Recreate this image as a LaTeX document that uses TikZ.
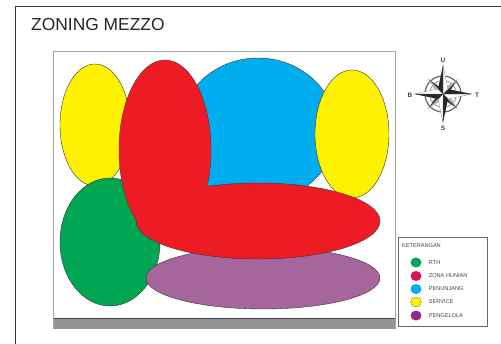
\documentclass[tikz,border=0pt]{standalone}
\usepackage{fontspec}
\setmainfont{Liberation Sans}
\usetikzlibrary{shapes.geometric,positioning,calc}
\definecolor{zonegreen}{HTML}{00A651}
\definecolor{zonered}{HTML}{ED1C24}
\definecolor{zoneblue}{HTML}{00AEEF}
\definecolor{zoneyellow}{HTML}{FFF200}
\definecolor{zonepurple}{HTML}{A7669B}
\definecolor{swatchred}{HTML}{D4145A}
\definecolor{swatchpurple}{HTML}{92278F}
\begin{document}
\begin{tikzpicture}[
  x=1pt, y=-1pt,
  every node/.style={font=\fontsize{5.6}{7}\selectfont, text=black!75},
  zone/.style={draw=black!80, line width=0.4pt},
  swatch/.style={ellipse, inner sep=0pt, minimum width=11pt, minimum height=10pt},
  legendtext/.style={anchor=west, inner sep=0pt},
  point/.style={font=\fontsize{6.5}{7}\selectfont\bfseries, inner sep=0pt}
]
  \useasboundingbox (0,0) rectangle (501,343);
  % sheet and site
  \draw[black!80, line width=0.7pt] (15,344) -- (15,6) -- (502,6);
  \node[font=\fontsize{17.4}{20}\selectfont, text=black!85, anchor=base west, inner sep=0pt] (title) at (31,30) {ZONING MEZZO};
  \draw[black!35, line width=0.8pt] (53.5,51.5) rectangle (395,328.5);
  \fill[black!42] (53.5,318) rectangle (395,328.5);
  \draw[black!75, line width=0.4pt] (53.5,318) -- (395,318);

  % zones
  \filldraw[zone, fill=zoneblue]   (258,130) ellipse [x radius=78, y radius=72];
  \filldraw[zone, fill=zoneyellow] (95,125) ellipse [x radius=35, y radius=61];
  \filldraw[zone, fill=zoneyellow] (352,134) ellipse [x radius=37, y radius=64];
  \filldraw[zone, fill=zonegreen]  (110,242) ellipse [x radius=50, y radius=64];
  \filldraw[zone, fill=zonepurple] (263,278) ellipse [x radius=117, y radius=31];
  \filldraw[zone, fill=zonered]    (165,150) ellipse [x radius=46, y radius=90];
  \filldraw[zone, fill=zonered]    (258,221) ellipse [x radius=122, y radius=38];
  \fill[zonered] (165,150) ellipse [x radius=45.6, y radius=89.6];

  % legend
  \draw[black!60, fill=white, line width=0.7pt] (398.5,237.5) rectangle (487,326);
  \node[legendtext] (legendtitle) at (402,245.5) {KETERANGAN};
  \node[swatch, fill=zonegreen]    (s1) at (416,262.5) {};
  \node[swatch, fill=swatchred]    (s2) at (416,276) {};
  \node[swatch, fill=zoneblue]     (s3) at (416,289) {};
  \node[swatch, fill=zoneyellow, draw=black!60, line width=0.3pt] (s4) at (416,302) {};
  \node[swatch, fill=swatchpurple] (s5) at (416,315.5) {};
  \node[legendtext, right=7pt of s1] {RTH};
  \node[legendtext, right=7pt of s2] {ZONA HUNIAN};
  \node[legendtext, right=7pt of s3] {PENUNJANG};
  \node[legendtext, right=7pt of s4] {SERVICE};
  \node[legendtext, right=7pt of s5] {PENGELOLA};

  % compass
  \coordinate (c) at (443,94);
  \draw[black!60, line width=1.2pt] (c) circle (18);
  \draw[black!50, line width=0.6pt] (c) circle (13.5);
  \foreach \a in {45,135,225,315}{
    \fill[black!75] (c) -- ($(c)+(\a:21)$) -- ($(c)+(\a+45:5)$) -- cycle;
    \fill[black!30] (c) -- ($(c)+(\a:21)$) -- ($(c)+(\a-45:5)$) -- cycle;
  }
  \foreach \a in {0,90,180,270}{
    \fill[white] (c) -- ($(c)+(\a:29)$) -- ($(c)+(\a+45:7)$) -- cycle;
    \fill[black!85] (c) -- ($(c)+(\a:29)$) -- ($(c)+(\a-45:7)$) -- cycle;
    \draw[black!60, line width=0.2pt] (c) -- ($(c)+(\a:29)$) -- ($(c)+(\a+45:7)$) -- cycle;
  }
  \node[point] (north) at (443,60.5) {U};
  \node[point] (south) at (443,128.5) {S};
  \node[point] (west)  at (410,95) {B};
  \node[point] (east)  at (477,95) {T};
\end{tikzpicture}
\end{document}
